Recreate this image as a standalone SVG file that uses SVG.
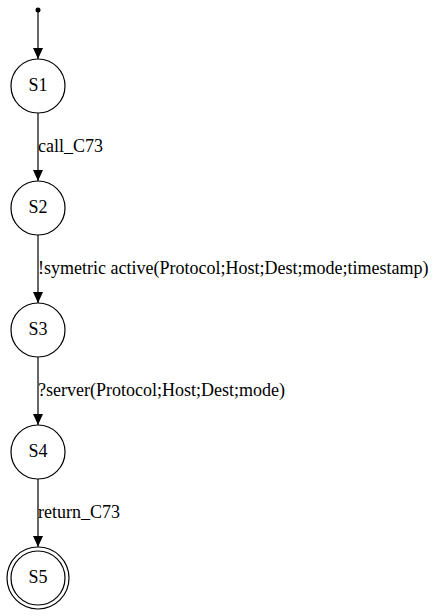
<svg xmlns="http://www.w3.org/2000/svg" width="439" height="616" viewBox="0 0 439 616">
  <style>
    .state circle { fill: none; stroke: #000; stroke-width: 1.2; }
    text { font-family: "Liberation Serif", "Times New Roman", serif; font-size: 18px; fill: #000; }
    .name { text-anchor: middle; }
    .edge line { stroke: #000; stroke-width: 1.2; }
  </style>
  <defs>
    <!-- filled triangular arrowhead shared by all transitions -->
    <marker id="arrow" markerWidth="12" markerHeight="12" refX="11" refY="6" orient="auto" markerUnits="userSpaceOnUse">
      <path d="M0,1 L11,6 L0,11 Z" fill="#000"/>
    </marker>
  </defs>

  <g id="start">
    <circle cx="38" cy="10" r="2.5" fill="#000"/>
  </g>

  <g id="S1" class="state">
    <circle cx="38" cy="86" r="27"/>
    <text class="name" x="38" y="91">S1</text>
  </g>
  <g id="S2" class="state">
    <circle cx="38" cy="208" r="27"/>
    <text class="name" x="38" y="213">S2</text>
  </g>
  <g id="S3" class="state">
    <circle cx="38" cy="330" r="27"/>
    <text class="name" x="38" y="335">S3</text>
  </g>
  <g id="S4" class="state">
    <circle cx="38" cy="452" r="27"/>
    <text class="name" x="38" y="457">S4</text>
  </g>
  <g id="S5" class="state">
    <circle cx="38" cy="578" r="27"/>
    <circle cx="38" cy="578" r="31"/>
    <text class="name" x="38" y="583">S5</text>
  </g>

  <g id="connectors" class="edge">
    <line x1="38" y1="12" x2="38" y2="59" marker-end="url(#arrow)"/>
    <line x1="38" y1="113" x2="38" y2="181" marker-end="url(#arrow)"/>
    <text x="38" y="152">call_C73</text>
    <line x1="38" y1="235" x2="38" y2="303" marker-end="url(#arrow)"/>
    <text x="38" y="274">!symetric active(Protocol;Host;Dest;mode;timestamp)</text>
    <line x1="38" y1="357" x2="38" y2="425" marker-end="url(#arrow)"/>
    <text x="38" y="396">?server(Protocol;Host;Dest;mode)</text>
    <line x1="38" y1="479" x2="38" y2="547" marker-end="url(#arrow)"/>
    <text x="38" y="518">return_C73</text>
  </g>
</svg>
